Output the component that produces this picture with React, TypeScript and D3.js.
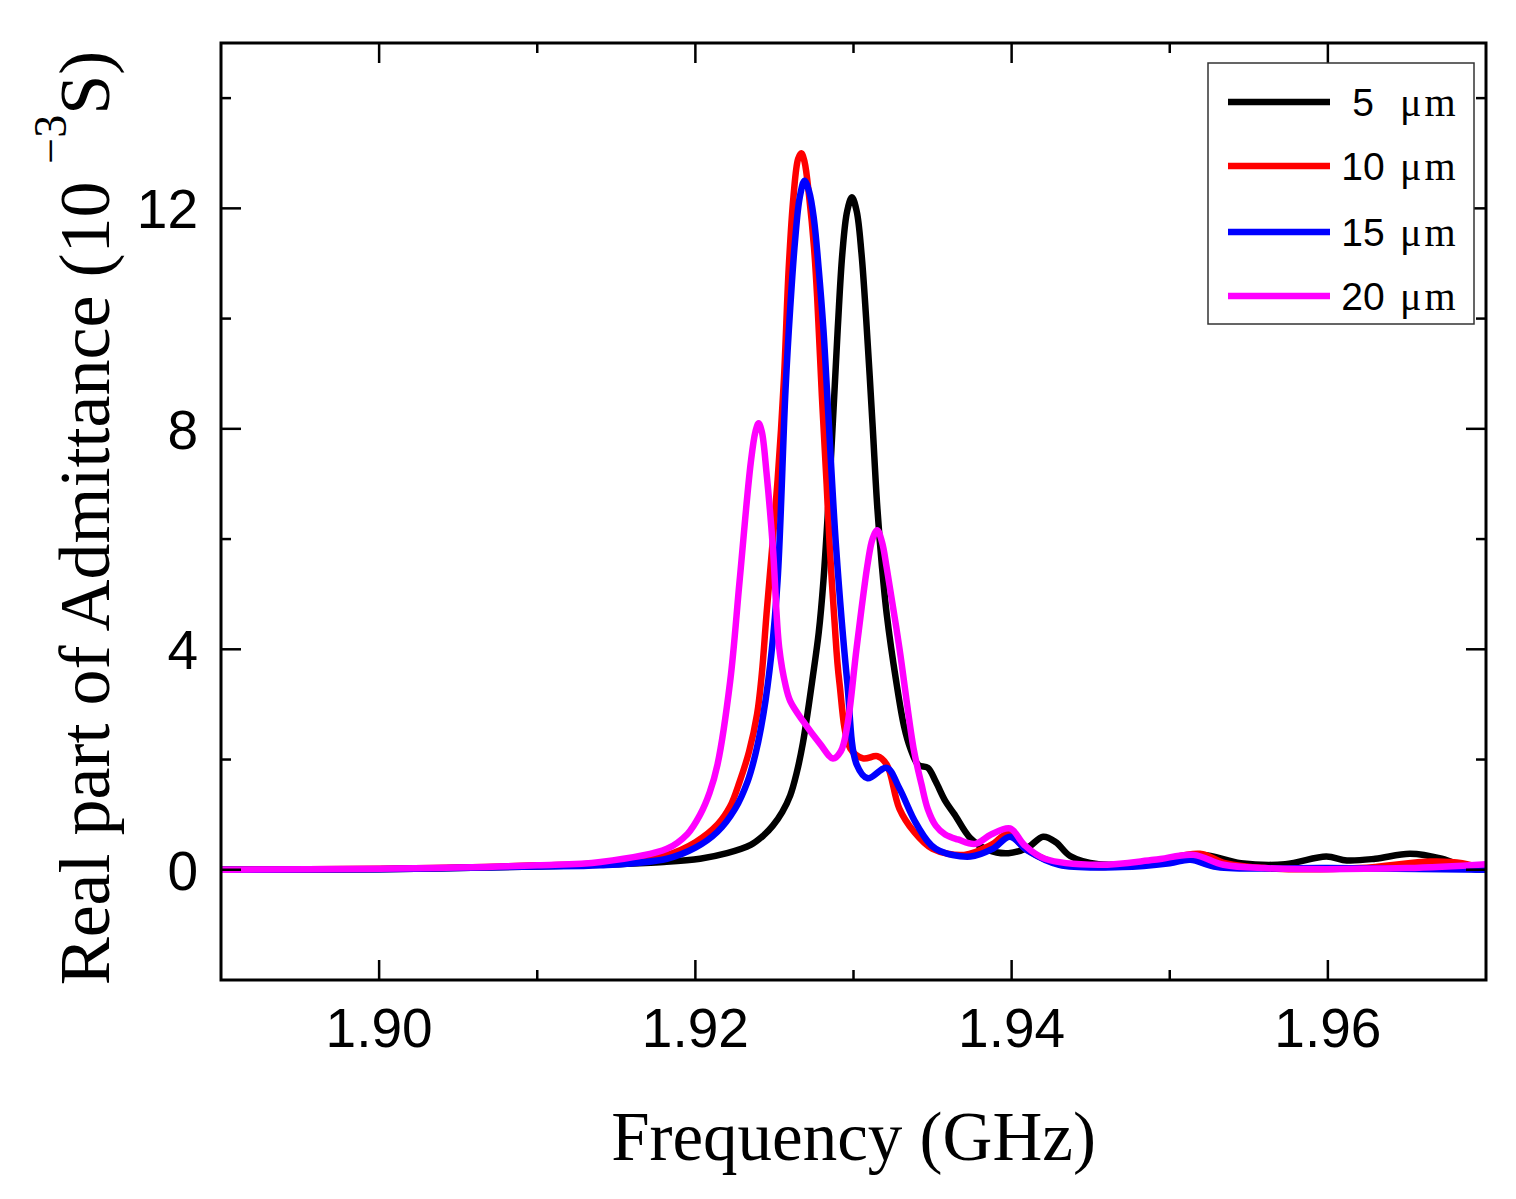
import React from "react";
import * as d3 from "d3";

// ---------- data (frequency in GHz, real part of admittance in 1e-3 S) ----------
const series5um: [number, number][] = [
  [1.890, 0], [1.900, 0.01], [1.905, 0.03], [1.910, 0.06], [1.915, 0.1], [1.918, 0.14],
  [1.9203, 0.2], [1.922, 0.3], [1.9235, 0.45], [1.9243, 0.62], [1.9249, 0.8], [1.9255, 1.05],
  [1.926, 1.35], [1.9264, 1.75], [1.9268, 2.3], [1.9271, 2.85], [1.9274, 3.45], [1.9278, 4.3],
  [1.9281, 5.25], [1.9285, 7.07], [1.929, 9.8], [1.9293, 11.2], [1.9296, 11.95], [1.9299, 12.2],
  [1.9302, 11.95], [1.9305, 11.2], [1.9308, 10.0], [1.9312, 8.1], [1.9315, 6.6], [1.9318, 5.5],
  [1.9321, 4.64], [1.9327, 3.42], [1.9332, 2.6], [1.9336, 2.2], [1.9341, 1.9], [1.9347, 1.85],
  [1.9352, 1.6], [1.9358, 1.25], [1.9364, 1.0], [1.9374, 0.57], [1.9385, 0.36], [1.9398, 0.3],
  [1.941, 0.4], [1.942, 0.6], [1.9428, 0.5], [1.9437, 0.25], [1.9455, 0.1], [1.948, 0.12],
  [1.9508, 0.2], [1.9521, 0.27], [1.9545, 0.12], [1.9573, 0.1], [1.9599, 0.24], [1.9612, 0.17],
  [1.963, 0.2], [1.9652, 0.29], [1.9672, 0.2], [1.969, 0.02], [1.970, 0.0],
];

const series10um: [number, number][] = [
  [1.890, 0], [1.900, 0.02], [1.905, 0.04], [1.910, 0.08], [1.914, 0.12], [1.9182, 0.27],
  [1.92, 0.5], [1.9214, 0.82], [1.9222, 1.15], [1.9228, 1.6], [1.9234, 2.15], [1.9239, 2.82],
  [1.9242, 3.55], [1.9245, 4.64], [1.9252, 7.07], [1.9256, 8.9], [1.9259, 10.9], [1.9262, 12.2],
  [1.9265, 12.9], [1.9267, 13.0], [1.9269, 12.85], [1.9272, 12.2], [1.9275, 11.3], [1.9277, 10.4],
  [1.928, 8.6], [1.9283, 7.0], [1.9285, 5.85], [1.9288, 4.5], [1.9291, 3.42], [1.9298, 2.2],
  [1.9306, 2.02], [1.9315, 2.06], [1.9321, 1.91], [1.9329, 1.11], [1.9338, 0.7], [1.935, 0.38],
  [1.937, 0.27], [1.9387, 0.45], [1.9398, 0.66], [1.9408, 0.4], [1.9425, 0.15], [1.9455, 0.05],
  [1.949, 0.15], [1.9519, 0.29], [1.9535, 0.12], [1.956, 0.03], [1.962, 0.03], [1.9665, 0.15],
  [1.9685, 0.12], [1.970, 0.0],
];

const series15um: [number, number][] = [
  [1.890, 0], [1.900, 0.01], [1.905, 0.03], [1.910, 0.06], [1.914, 0.08], [1.9182, 0.2],
  [1.92, 0.4], [1.9214, 0.69], [1.9225, 1.1], [1.9233, 1.6], [1.9238, 2.1], [1.9243, 2.82],
  [1.9248, 3.9], [1.9252, 5.25], [1.9257, 8.7], [1.926, 10.2], [1.9263, 11.4], [1.9266, 12.2],
  [1.9269, 12.5], [1.9272, 12.3], [1.9275, 11.8], [1.9278, 10.9], [1.9281, 9.8], [1.9284, 8.3],
  [1.9289, 5.85], [1.9296, 3.42], [1.9302, 1.91], [1.9309, 1.66], [1.9321, 1.85], [1.9329, 1.48],
  [1.934, 0.82], [1.9352, 0.38], [1.9374, 0.24], [1.9388, 0.38], [1.9399, 0.6], [1.941, 0.35],
  [1.943, 0.09], [1.947, 0.05], [1.95, 0.12], [1.9513, 0.18], [1.953, 0.05], [1.96, 0.03],
  [1.970, 0.0],
];

const series20um: [number, number][] = [
  [1.890, 0], [1.900, 0.02], [1.905, 0.04], [1.910, 0.08], [1.914, 0.14], [1.9182, 0.38],
  [1.9195, 0.65], [1.9203, 1.0], [1.9209, 1.4], [1.9214, 1.91], [1.9222, 3.42], [1.9228, 5.25],
  [1.9235, 7.38], [1.9238, 7.95], [1.924, 8.1], [1.9242, 7.95], [1.9245, 7.2], [1.9249, 5.85],
  [1.9253, 4.03], [1.9257, 3.35], [1.926, 3.06], [1.9268, 2.7], [1.9279, 2.28], [1.9287, 2.02],
  [1.9292, 2.15], [1.9296, 2.6], [1.9302, 4.03], [1.9309, 5.56], [1.9312, 6.0], [1.9315, 6.16],
  [1.9318, 5.95], [1.9321, 5.48], [1.9329, 4.03], [1.9338, 2.2], [1.9343, 1.55], [1.9347, 1.1],
  [1.9352, 0.8], [1.9358, 0.64], [1.9366, 0.55], [1.9377, 0.47], [1.9387, 0.64], [1.9399, 0.75],
  [1.9408, 0.45], [1.9421, 0.2], [1.9455, 0.09], [1.949, 0.18], [1.9515, 0.27], [1.9534, 0.09],
  [1.956, 0.03], [1.965, 0.03], [1.970, 0.1],
];

const legendLabels = ["5", "10", "15", "20"];
const legendUnit = "\u03bcm";
const seriesColors = ["#000000", "#ff0000", "#0000ff", "#ff00ff"];
const allSeries = [series5um, series10um, series15um, series20um];

const xMajorTicks = [1.90, 1.92, 1.94, 1.96];
const xMinorTicks = [1.91, 1.93, 1.95];
const yMajorTicks = [0, 4, 8, 12];
const yMinorTicks = [2, 6, 10, 14];

const xTitle = "Frequency (GHz)";
const yTitleMain = "Real part of Admittance (10 ";
const yTitleSup = "\u22123";
const yTitleEnd = "S)";

// ---------- layout ----------
const W = 1516;
const H = 1199;
const L = 221, R = 1486, T = 43, B = 980;

export default function App() {
  const x = d3.scaleLinear().domain([1.89, 1.97]).range([L, R]);
  const y = d3.scaleLinear().domain([-2, 15]).range([B, T]);
  const line = d3
    .line<[number, number]>()
    .x((d) => x(d[0]))
    .y((d) => y(d[1]))
    .curve(d3.curveCatmullRom.alpha(0.5));

  const sans = "'Liberation Sans', Arial, sans-serif";
  const serif = "'Liberation Serif', 'Times New Roman', serif";
  const majorLen = 20, minorLen = 10;

  const legX = 1208, legY = 63, legW = 266, legH = 261;
  const legRowY = [102, 166, 232, 296];

  return (
    <svg
      width={W}
      height={H}
      style={{ position: "absolute", left: 0, top: 0, background: "#fff" }}
    >
      <defs>
        <clipPath id="plotClip">
          <rect x={L} y={T} width={R - L} height={B - T} />
        </clipPath>
      </defs>
      <rect x={0} y={0} width={W} height={H} fill="#fff" />

      {/* curves */}
      <g clipPath="url(#plotClip)">
        {allSeries.map((s, i) => (
          <path
            key={i}
            d={line(s) || ""}
            fill="none"
            stroke={seriesColors[i]}
            strokeWidth={6.5}
            strokeLinejoin="round"
            strokeLinecap="round"
          />
        ))}
      </g>

      {/* ticks */}
      <g stroke="#000" strokeWidth={2.5}>
        {xMajorTicks.map((t) => (
          <g key={"xM" + t}>
            <line x1={x(t)} x2={x(t)} y1={B} y2={B - majorLen} />
            <line x1={x(t)} x2={x(t)} y1={T} y2={T + majorLen} />
          </g>
        ))}
        {xMinorTicks.map((t) => (
          <g key={"xm" + t}>
            <line x1={x(t)} x2={x(t)} y1={B} y2={B - minorLen} />
            <line x1={x(t)} x2={x(t)} y1={T} y2={T + minorLen} />
          </g>
        ))}
        {yMajorTicks.map((t) => (
          <g key={"yM" + t}>
            <line x1={L} x2={L + majorLen} y1={y(t)} y2={y(t)} />
            <line x1={R} x2={R - majorLen} y1={y(t)} y2={y(t)} />
          </g>
        ))}
        {yMinorTicks.map((t) => (
          <g key={"ym" + t}>
            <line x1={L} x2={L + minorLen} y1={y(t)} y2={y(t)} />
            <line x1={R} x2={R - minorLen} y1={y(t)} y2={y(t)} />
          </g>
        ))}
      </g>

      {/* frame */}
      <rect x={L} y={T} width={R - L} height={B - T} fill="none" stroke="#000" strokeWidth={3} />

      {/* tick labels */}
      <g fontFamily={sans} fontSize={55} fill="#000">
        {xMajorTicks.map((t) => (
          <text key={"xl" + t} x={x(t)} y={1047} textAnchor="middle">
            {d3.format(".2f")(t)}
          </text>
        ))}
        {yMajorTicks.map((t) => (
          <text key={"yl" + t} x={198} y={y(t) + 20} textAnchor="end">
            {String(t)}
          </text>
        ))}
      </g>

      {/* axis titles */}
      <text x={(L + R) / 2} y={1160} textAnchor="middle" fontFamily={serif} fontSize={69} fill="#000">
        {xTitle}
      </text>
      <text
        transform={`translate(109, 518) rotate(-90)`}
        textAnchor="middle"
        fontFamily={serif}
        fontSize={72}
        fill="#000"
        style={{ whiteSpace: "pre" }}
      >
        <tspan>{yTitleMain}</tspan>
        <tspan fontSize={46} dy={-43}>{yTitleSup}</tspan>
        <tspan dy={43}>{yTitleEnd}</tspan>
      </text>

      {/* legend */}
      <rect x={legX} y={legY} width={legW} height={legH} fill="#fff" stroke="#333" strokeWidth={1.5} />
      {legendLabels.map((lab, i) => (
        <g key={"lg" + lab}>
          <line x1={1228} x2={1330} y1={legRowY[i]} y2={legRowY[i]} stroke={seriesColors[i]} strokeWidth={6.5} />
          <text x={1363} y={legRowY[i] + 14} textAnchor="middle" fontFamily={sans} fontSize={39} fill="#000">
            {lab}
          </text>
          <text x={1400} y={legRowY[i] + 14} fontFamily={serif} fontSize={40} letterSpacing={3} fill="#000">
            {legendUnit}
          </text>
        </g>
      ))}
    </svg>
  );
}
